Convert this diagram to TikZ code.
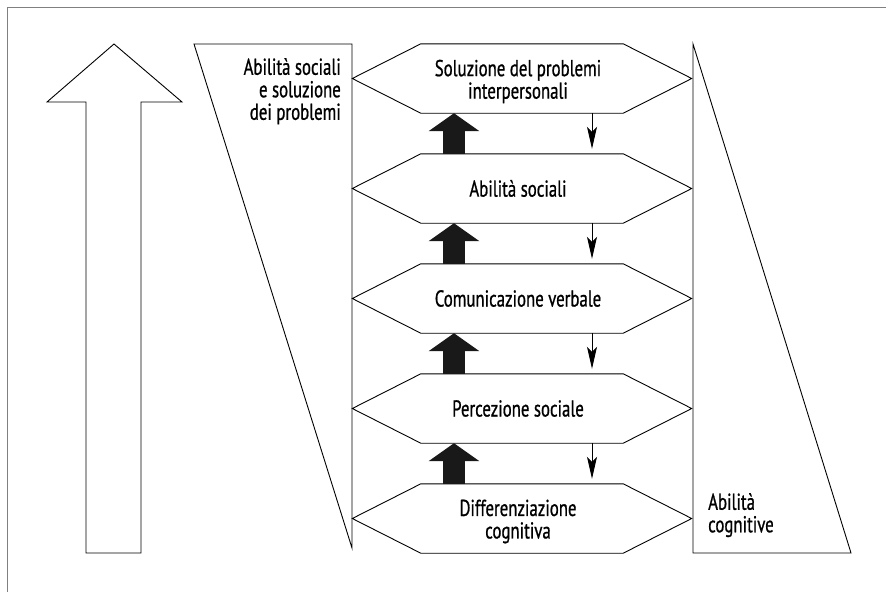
\documentclass[tikz,border=0pt]{standalone}
\usepackage{fontspec}
\setmainfont{PT Sans}[FakeStretch=0.73,FakeBold=0.8]
\usetikzlibrary{arrows.meta,calc}

\tikzset{
  outline/.style={draw=black, line width=0.9pt, line join=miter},
  hexbox/.style={minimum width=202pt, minimum height=69pt, inner sep=0pt},
  labeltext/.style={font=\fontsize{23}{22.5}\selectfont, inner sep=0pt},
  climb/.style={draw=black!90, line width=22pt, -{Triangle[width=50pt,length=18pt]}},
  descend/.style={draw=black, line width=0.9pt, -{Stealth[length=22pt,width=10pt,inset=5pt]}, shorten >=5pt},
}

\begin{document}
\begin{tikzpicture}[x=1pt,y=-1pt]
\useasboundingbox (0,0) rectangle (886,592);

% frame edges
\draw[gray, line width=1pt] (7,592) -- (7,7) -- (886,7);

% big hollow upward arrow
\draw[outline] (114,44) -- (182,102) -- (141,102) -- (141,553)
  -- (86,553) -- (86,102) -- (47,102) -- cycle;

% left wedge with its caption
\draw[outline] (194,44) -- (352,44) -- (352,548) -- cycle;
\node[labeltext, align=right, anchor=north east] (social) at (341,58)
  {Abilità sociali\\e soluzione\\dei problemi};

% right wedge with its caption
\draw[outline] (693,44) -- (851,553) -- (693,553) -- cycle;
\node[labeltext, align=left, anchor=north west] (cognitive) at (708,493)
  {Abilità\\cognitive};

% the five levels
\foreach \i/\yc/\dy/\txt in {
  1/78.5/-3/{Soluzione del problemi\\interpersonali},
  2/188.5/0/{Abilità sociali},
  3/298.5/0/{Comunicazione verbale},
  4/408.5/0/{Percezione sociale},
  5/518.5/-3/{Differenziazione\\cognitiva}}{
  \node[hexbox] (h\i) at (522,\yc) {};
  \draw[outline] (h\i.north west) -- (h\i.north east) -- ($(h\i.east)+(68.5,0)$)
    -- (h\i.south east) -- (h\i.south west) -- ($(h\i.west)+(-68.5,0)$) -- cycle;
  \node[labeltext, align=center, yshift=\dy pt] (t\i) at (518,\yc) {\txt};
}

% columns for the connectors
\coordinate (upx) at (454,0);
\coordinate (downx) at (592,0);

\foreach \lo/\hi in {2/1,3/2,4/3,5/4}{
  \draw[climb] (h\lo.north -| upx) -- (h\hi.south -| upx);
  \draw[descend] (h\hi.south -| downx) -- (h\lo.north -| downx);
}
\end{tikzpicture}
\end{document}
